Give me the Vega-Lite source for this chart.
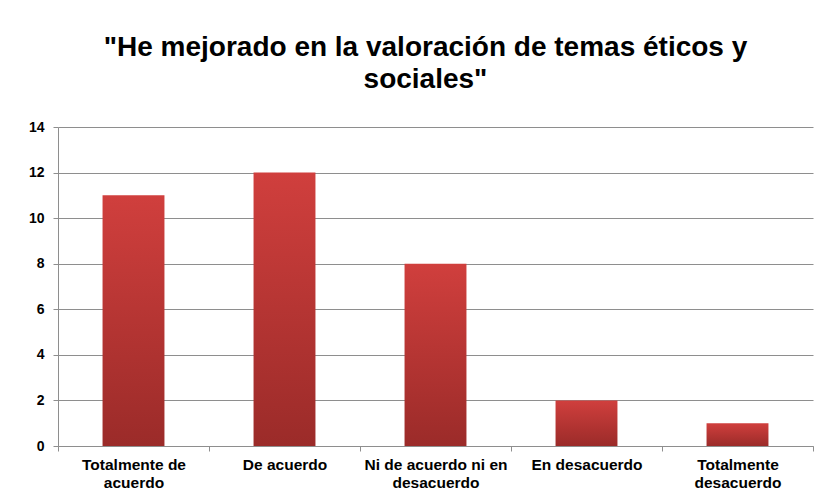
{
  "$schema": "https://vega.github.io/schema/vega-lite/v6.json",
  "autosize": "none",
  "width": 755,
  "height": 319,
  "padding": {"left": 58, "top": 127, "right": 17, "bottom": 57},
  "background": "white",
  "title": {
    "text": ["\"He mejorado en la valoración de temas éticos y", "sociales\""],
    "font": "Liberation Sans, Arial, sans-serif",
    "fontSize": 28,
    "fontWeight": "bold",
    "color": "#000000",
    "lineHeight": 32,
    "anchor": "middle",
    "dx": -10,
    "offset": 26
  },
  "data": {
    "values": [
      {"respuesta": "Totalmente de acuerdo", "n": 11},
      {"respuesta": "De acuerdo", "n": 12},
      {"respuesta": "Ni de acuerdo ni en desacuerdo", "n": 8},
      {"respuesta": "En desacuerdo", "n": 2},
      {"respuesta": "Totalmente desacuerdo", "n": 1}
    ]
  },
  "mark": {
    "type": "bar",
    "width": {"band": 0.41},
    "fill": {
      "gradient": "linear",
      "x1": 0, "y1": 0, "x2": 0, "y2": 1,
      "stops": [
        {"offset": 0, "color": "#D03F3D"},
        {"offset": 1, "color": "#9B2B29"}
      ]
    }
  },
  "encoding": {
    "x": {
      "field": "respuesta",
      "type": "nominal",
      "sort": null,
      "scale": {"paddingInner": 0, "paddingOuter": 0},
      "axis": {
        "title": null,
        "labelAngle": 0,
        "tickBand": "extent",
        "labelExpr": "datum.label == 'Totalmente de acuerdo' ? ['Totalmente de', 'acuerdo'] : datum.label == 'Ni de acuerdo ni en desacuerdo' ? ['Ni de acuerdo ni en', 'desacuerdo'] : datum.label == 'Totalmente desacuerdo' ? ['Totalmente', 'desacuerdo'] : datum.label",
        "labelFont": "Liberation Sans, Arial, sans-serif",
        "labelFontSize": 15.5,
        "labelFontWeight": "bold",
        "labelColor": "#000000",
        "labelLineHeight": 18,
        "labelPadding": 6,
        "tickSize": 5,
        "tickColor": "#8E8E8E",
        "domainColor": "#8E8E8E",
        "grid": false
      }
    },
    "y": {
      "field": "n",
      "type": "quantitative",
      "scale": {"domain": [0, 14], "nice": false},
      "axis": {
        "title": null,
        "values": [0, 2, 4, 6, 8, 10, 12, 14],
        "labelFont": "Liberation Sans, Arial, sans-serif",
        "labelFontSize": 14,
        "labelFontWeight": "bold",
        "labelColor": "#000000",
        "labelPadding": 9,
        "tickSize": 5,
        "tickColor": "#8E8E8E",
        "domainColor": "#8E8E8E",
        "grid": true,
        "gridColor": "#8E8E8E",
        "gridOpacity": 1
      }
    }
  },
  "config": {
    "view": {"stroke": null}
  }
}
